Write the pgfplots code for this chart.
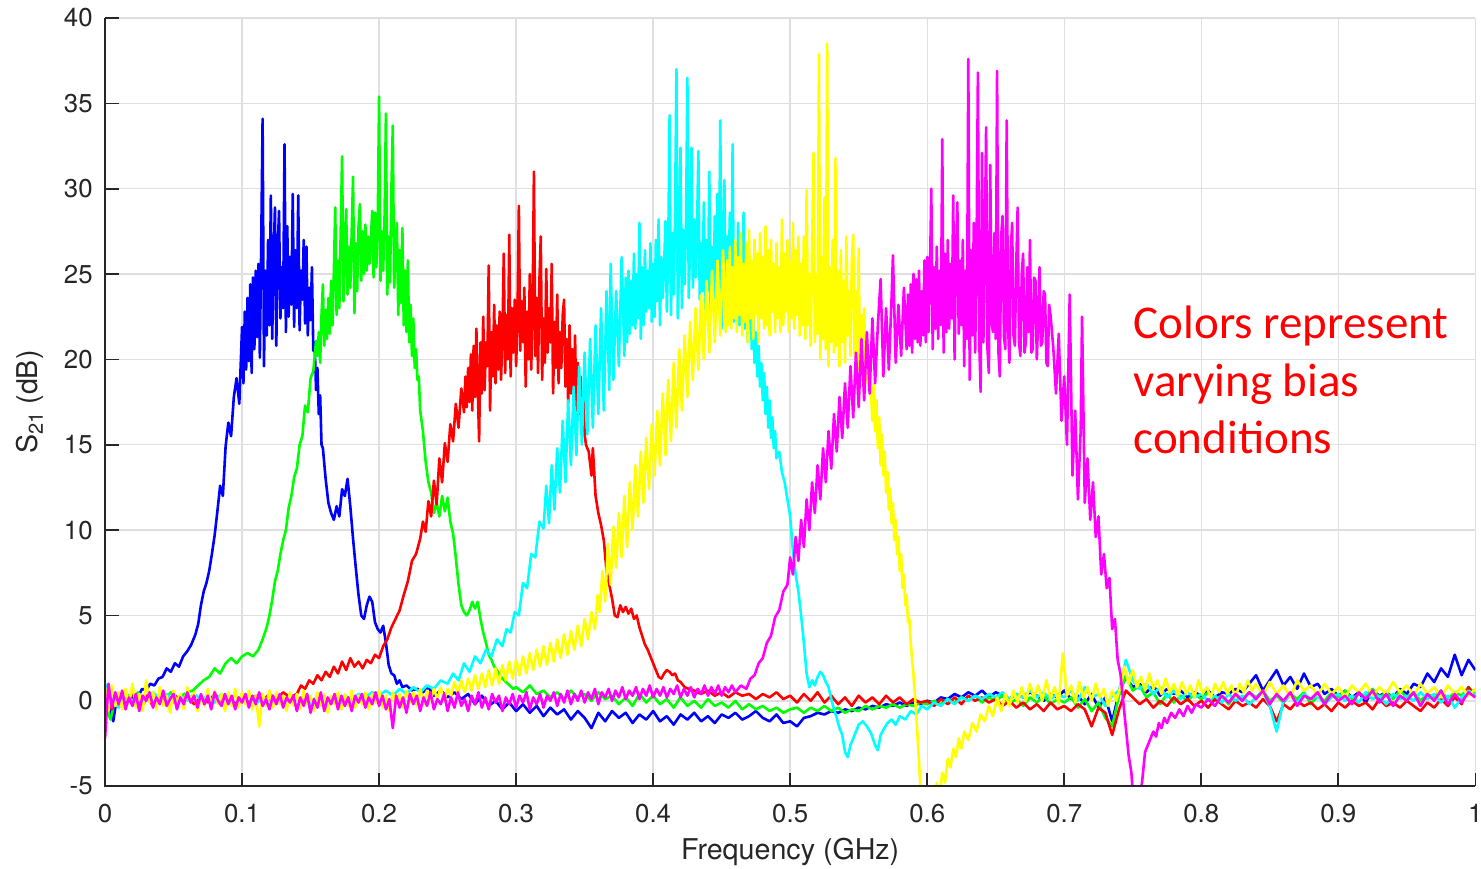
\documentclass[border=0pt]{standalone}
\usepackage{pgfplots}
\pgfplotsset{compat=1.18}
\usepackage{fontspec}
\setmainfont{TeX Gyre Heros}
\newfontfamily\calib{Carlito}
\definecolor{axgray}{RGB}{38,38,38}
\definecolor{gridgray}{RGB}{223,223,223}
\definecolor{mblue}{RGB}{0,0,255}
\definecolor{mgreen}{RGB}{0,255,0}
\definecolor{mred}{RGB}{255,0,0}
\definecolor{mcyan}{RGB}{0,255,255}
\definecolor{myellow}{RGB}{255,255,0}
\definecolor{mmagenta}{RGB}{255,0,255}
\begin{document}
\begin{tikzpicture}
\begin{axis}[
 scale only axis, width=685pt, height=384pt,
 xmin=0, xmax=1, ymin=-5, ymax=40,
 xtick={0,0.1,0.2,0.3,0.4,0.5,0.6,0.7,0.8,0.9,1},
 xticklabels={0,0.1,0.2,0.3,0.4,0.5,0.6,0.7,0.8,0.9,1},
 ytick={-5,0,5,10,15,20,25,30,35,40},
 yticklabels={-5,0,5,10,15,20,25,30,35,40},
 grid=major, major grid style={gridgray, line width=0.7pt},
 axis line style={draw=none},
 tick align=inside, xtick pos=left, ytick pos=left,
 major tick length=6.75pt, tick style={axgray, line width=0.8pt},
 ticklabel style={font=\fontsize{12.9}{14}\selectfont, text=axgray},
 xticklabel style={anchor=base, yshift=-18pt},
 yticklabel style={anchor=east, inner sep=0pt, xshift=-6pt},
 label style={font=\fontsize{14.3}{16}\selectfont, text=axgray},
 xlabel={Frequency (GHz)},
 ylabel={S\raisebox{-0.35ex}{\fontsize{10}{10}\selectfont 21} (dB)},
 xlabel style={at={(axis description cs:0.5,-0.095)}, anchor=base},
 ylabel style={at={(axis description cs:-0.0547,0.5)}, anchor=center},
 every axis plot/.append style={line width=1.3pt, line join=round},
]
% blue
\addplot[mblue] coordinates {
(0,0.5)(0.003,-0.3)(0.006,-1.2)(0.009,0.4)(0.012,-0.2)(0.015,0.3)(0.018,0.0)(0.021,0.4)(0.024,0.2)(0.027,0.7)
(0.030,0.6)(0.033,1.0)(0.036,0.9)(0.039,1.3)(0.042,1.4)(0.045,1.9)(0.048,1.7)(0.051,2.2)(0.054,2.0)(0.057,2.6)
(0.060,2.9)(0.063,3.3)(0.066,3.9)(0.068,4.5)(0.070,5.6)(0.072,6.4)(0.074,6.9)(0.076,7.6)(0.078,8.6)(0.080,9.7)
(0.082,11.1)(0.084,12.6)(0.086,12.0)(0.088,14.9)(0.090,16.3)(0.092,15.5)(0.094,17.8)(0.096,18.9)(0.098,17.4)
(0.100,21.9)(0.101,18.6)(0.102,22.8)(0.103,19.4)(0.104,23.6)(0.105,19.9)(0.106,24.4)(0.107,19.2)(0.108,24.8)(0.109,20.6)
(0.110,25.2)(0.111,21.3)(0.112,25.6)(0.113,20.1)(0.114,26.8)(0.115,34.1)(0.116,19.6)(0.117,25.2)(0.118,21.4)(0.119,27.0)
(0.120,22.0)(0.121,29.6)(0.122,21.2)(0.123,25.8)(0.124,28.9)(0.125,20.8)(0.126,26.5)(0.127,28.7)(0.128,22.4)(0.129,25.4)
(0.130,23.0)(0.131,32.6)(0.132,21.6)(0.133,27.8)(0.134,22.5)(0.135,26.0)(0.136,23.2)(0.137,29.7)(0.138,21.9)(0.139,26.4)
(0.140,23.0)(0.141,29.6)(0.142,21.7)(0.143,25.2)(0.144,23.5)(0.145,27.0)(0.146,22.1)(0.147,26.6)(0.148,21.4)(0.149,24.2)
(0.150,22.3)(0.151,25.4)(0.152,20.5)(0.153,21.0)(0.154,18.2)(0.155,19.5)(0.156,16.8)(0.157,17.9)(0.158,15.0)(0.159,14.8)
(0.161,13.0)(0.163,11.6)(0.165,11.0)(0.167,10.6)(0.169,11.4)(0.171,10.8)(0.173,12.4)(0.175,12.0)(0.177,13.0)(0.179,11.4)
(0.181,9.5)(0.183,7.8)(0.185,6.2)(0.187,5.0)(0.189,4.8)(0.191,5.6)(0.193,6.1)(0.195,5.8)(0.197,4.6)(0.199,4.2)
(0.201,4.0)(0.203,4.4)(0.205,3.4)(0.207,2.1)(0.209,1.6)(0.211,1.5)(0.213,1.0)(0.215,1.2)(0.217,0.8)(0.220,0.9)
(0.224,0.6)(0.228,0.7)(0.232,0.5)(0.236,0.8)(0.240,0.3)(0.245,0.6)(0.250,0.2)(0.255,0.5)(0.260,0.1)(0.265,0.4)
(0.270,-0.2)(0.275,0.3)(0.280,-0.3)(0.285,0.0)(0.290,-0.5)(0.295,-0.1)(0.300,-0.6)(0.305,-0.2)(0.310,-0.7)(0.315,-0.3)
(0.320,-0.9)(0.325,-0.4)(0.330,-0.8)(0.335,-0.5)(0.340,-1.1)(0.345,-0.6)(0.350,-1.0)(0.355,-1.6)(0.360,-0.7)(0.365,-1.2)
(0.370,-0.6)(0.375,-1.0)(0.380,-0.7)(0.385,-1.3)(0.390,-0.8)(0.395,-1.1)(0.400,-0.6)(0.405,-1.2)(0.410,-0.9)(0.415,-1.4)
(0.420,-0.8)(0.425,-1.1)(0.430,-0.7)(0.435,-1.2)(0.440,-0.9)(0.445,-1.3)(0.450,-0.8)(0.455,-1.0)(0.460,-0.7)(0.465,-1.1)
(0.470,-0.9)(0.475,-0.6)(0.480,-1.0)(0.485,-1.2)(0.490,-0.8)(0.495,-1.3)(0.500,-1.2)(0.505,-1.5)(0.510,-1.0)(0.515,-0.9)
(0.520,-0.7)(0.525,-0.8)(0.530,-0.6)(0.535,-0.7)(0.540,-0.5)(0.545,-0.6)(0.550,-0.4)(0.555,-0.5)(0.560,-0.3)(0.565,-0.4)
(0.570,-0.2)(0.575,-0.3)(0.580,-0.1)(0.585,-0.3)(0.590,-0.1)(0.595,-0.2)(0.600,0.0)(0.605,-0.1)(0.610,0.2)(0.615,0.1)
(0.620,0.4)(0.625,0.2)(0.630,0.5)(0.635,0.3)(0.640,0.6)(0.645,0.2)(0.650,0.5)(0.655,0.3)(0.660,0.1)(0.665,0.4)
(0.670,0.2)(0.675,0.5)(0.680,0.3)(0.685,0.0)(0.690,0.4)(0.695,0.2)(0.700,0.6)(0.705,0.1)(0.710,0.3)(0.715,-0.2)
(0.720,0.4)(0.725,-0.4)(0.730,0.2)(0.735,-1.2)(0.740,0.5)(0.745,1.4)(0.750,0.8)(0.755,1.0)(0.760,0.5)(0.765,0.9)
(0.770,0.3)(0.775,0.7)(0.780,0.4)(0.785,0.6)(0.790,0.2)(0.795,0.5)(0.800,0.3)(0.805,0.6)(0.810,0.2)(0.815,0.5)
(0.820,0.4)(0.825,0.7)(0.830,0.5)(0.835,1.0)(0.840,1.5)(0.845,0.6)(0.850,1.2)(0.855,1.8)(0.860,0.9)(0.865,1.4)
(0.870,0.7)(0.875,1.6)(0.880,0.8)(0.885,1.0)(0.890,0.4)(0.895,0.7)(0.900,0.3)(0.905,0.6)(0.910,0.2)(0.915,0.5)
(0.920,-0.1)(0.925,0.6)(0.930,0.3)(0.935,0.5)(0.940,0.2)(0.945,0.7)(0.950,0.4)(0.955,1.0)(0.960,0.8)(0.965,1.6)
(0.970,1.1)(0.975,1.9)(0.980,1.4)(0.985,2.7)(0.990,1.5)(0.995,2.4)(1.000,1.8)
};
% green
\addplot[mgreen] coordinates {
(0,-0.3)(0.004,-1.1)(0.008,0.3)(0.012,-0.2)(0.016,0.4)(0.020,-0.1)(0.024,0.5)(0.028,-0.2)(0.032,0.3)(0.036,0.0)
(0.040,0.4)(0.044,0.1)(0.048,0.5)(0.052,0.2)(0.056,0.3)(0.060,0.5)(0.064,0.6)(0.068,0.9)(0.072,1.2)(0.076,1.4)
(0.080,1.9)(0.084,1.6)(0.088,2.2)(0.092,2.5)(0.096,2.2)(0.100,2.6)(0.104,2.8)(0.108,2.6)(0.112,3.0)(0.115,3.6)
(0.118,4.3)(0.120,5.0)(0.122,5.9)(0.124,7.0)(0.126,7.6)(0.128,8.6)(0.130,9.4)(0.132,10.0)(0.134,11.3)(0.136,12.0)
(0.138,13.1)(0.140,13.6)(0.142,15.0)(0.144,15.5)(0.146,17.3)(0.148,16.9)(0.150,18.9)(0.152,19.3)(0.154,21.1)
(0.155,20.2)(0.156,21.6)(0.157,19.8)(0.158,22.6)(0.159,24.4)(0.160,20.8)(0.161,22.9)(0.162,21.2)(0.163,23.6)(0.164,21.5)
(0.165,24.6)(0.166,22.0)(0.167,25.1)(0.168,28.9)(0.169,22.6)(0.170,25.8)(0.171,23.0)(0.172,27.5)(0.173,31.9)(0.174,23.4)
(0.175,26.2)(0.176,28.8)(0.177,23.8)(0.178,26.6)(0.179,24.2)(0.180,27.4)(0.181,30.7)(0.182,22.7)(0.183,26.8)(0.184,24.0)
(0.185,27.8)(0.186,29.1)(0.187,24.6)(0.188,27.5)(0.189,25.0)(0.190,27.9)(0.191,25.2)(0.192,27.2)(0.193,25.6)(0.194,27.0)
(0.195,28.7)(0.196,24.8)(0.197,28.6)(0.198,25.4)(0.199,27.8)(0.200,35.4)(0.201,24.6)(0.202,27.5)(0.203,25.2)(0.204,28.4)
(0.205,34.4)(0.206,23.8)(0.207,27.2)(0.208,24.5)(0.209,30.0)(0.210,33.7)(0.211,24.2)(0.212,26.5)(0.213,28.0)(0.214,22.6)
(0.215,26.4)(0.216,23.3)(0.217,27.7)(0.218,22.0)(0.219,25.2)(0.220,21.6)(0.221,25.8)(0.222,21.0)(0.223,23.2)(0.224,20.2)
(0.225,22.4)(0.226,19.5)(0.227,20.6)(0.228,18.8)(0.229,19.0)(0.230,17.0)
(0.232,15.8)(0.234,14.0)(0.236,12.8)(0.238,12.2)(0.240,11.0)(0.242,11.6)(0.244,10.8)
(0.246,12.0)(0.248,11.1)(0.250,11.9)(0.252,10.5)(0.254,9.8)(0.256,8.4)(0.258,6.8)(0.260,5.6)(0.262,5.2)(0.264,5.0)
(0.266,5.3)(0.268,5.8)(0.270,5.4)(0.272,5.8)(0.274,4.8)(0.276,4.0)(0.278,3.4)(0.280,2.7)(0.282,2.4)(0.284,2.0)
(0.286,1.8)(0.288,1.5)(0.290,1.3)(0.294,1.0)(0.298,0.7)(0.300,0.8)(0.305,0.5)(0.310,0.9)(0.315,0.4)(0.320,0.6)
(0.325,0.2)(0.330,0.5)(0.335,0.1)(0.340,0.6)(0.345,0.2)(0.350,0.4)(0.355,0.0)(0.360,0.5)(0.365,0.1)(0.370,0.3)
(0.375,-0.2)(0.380,0.2)(0.385,-0.3)(0.390,0.4)(0.395,-0.1)(0.400,0.3)(0.405,-0.2)(0.410,0.1)(0.415,-0.4)(0.420,0.2)
(0.425,-0.3)(0.430,0.0)(0.435,-0.4)(0.440,0.1)(0.445,-0.3)(0.450,-0.1)(0.455,-0.4)(0.460,0.0)(0.465,-0.5)(0.470,-0.2)
(0.475,-0.5)(0.480,-0.3)(0.485,-0.6)(0.490,-0.4)(0.495,-0.7)(0.500,-0.5)(0.505,-0.4)(0.510,-0.7)(0.515,-0.4)(0.520,-0.6)
(0.525,-0.3)(0.530,-0.6)(0.535,-0.4)(0.540,-0.7)(0.545,-0.5)(0.550,-0.6)(0.555,-0.3)(0.560,-0.5)(0.565,-0.3)(0.570,-0.4)
(0.575,-0.2)(0.580,-0.4)(0.585,-0.2)(0.590,-0.3)(0.595,-0.1)(0.600,-0.2)(0.605,0.0)(0.610,-0.2)(0.615,0.1)(0.620,-0.1)
(0.625,0.2)(0.630,0.0)(0.635,0.3)(0.640,-0.1)(0.645,0.2)(0.650,0.0)(0.655,0.3)(0.660,-0.2)(0.665,0.1)(0.670,-0.3)
(0.675,0.2)(0.680,-0.1)(0.685,0.3)(0.690,-0.2)(0.695,0.1)(0.700,-0.1)(0.705,0.2)(0.710,-0.4)(0.715,0.1)(0.720,-0.6)
(0.725,-0.1)(0.730,-1.0)(0.735,-1.5)(0.740,0.3)(0.745,1.5)(0.750,0.6)(0.755,0.9)(0.760,0.2)(0.765,0.5)(0.770,-0.2)
(0.775,0.4)(0.780,-0.1)(0.785,0.3)(0.790,0.0)(0.795,0.4)(0.800,0.1)(0.805,0.5)(0.810,0.0)(0.815,0.3)(0.820,-0.2)
(0.825,0.4)(0.830,0.1)(0.835,0.5)(0.840,0.2)(0.845,0.6)(0.850,0.0)(0.855,0.3)(0.860,-0.1)(0.865,0.4)(0.870,0.1)
(0.875,0.5)(0.880,-0.2)(0.885,0.3)(0.890,0.0)(0.895,0.5)(0.900,0.2)(0.905,0.6)(0.910,0.1)(0.915,0.4)(0.920,0.3)
(0.925,0.7)(0.930,0.2)(0.935,0.5)(0.940,0.1)(0.945,0.6)(0.950,0.2)(0.955,0.5)(0.960,0.0)(0.965,0.4)(0.970,0.2)
(0.975,0.6)(0.980,0.1)(0.985,0.5)(0.990,0.3)(0.995,0.8)(1.000,0.4)
};
% red
\addplot[mred] coordinates {
(0,0.6)(0.005,-0.5)(0.010,0.3)(0.015,-0.2)(0.020,0.4)(0.025,-0.1)(0.030,0.3)(0.035,-0.3)(0.040,0.2)(0.045,-0.2)
(0.050,0.4)(0.055,0.0)(0.060,0.3)(0.065,-0.2)(0.070,0.2)(0.075,-0.1)(0.080,0.4)(0.085,0.0)(0.090,0.3)(0.095,-0.2)
(0.100,0.2)(0.105,-0.1)(0.110,0.3)(0.115,0.0)(0.120,0.4)(0.125,0.1)(0.130,0.5)(0.135,0.2)(0.140,0.4)(0.143,0.9)
(0.146,0.7)(0.149,1.2)(0.152,1.0)(0.155,1.5)(0.158,1.2)(0.161,1.7)(0.164,1.4)(0.167,2.0)(0.170,1.6)(0.173,2.3)
(0.176,1.8)(0.179,2.5)(0.182,2.0)(0.185,2.3)(0.188,1.9)(0.191,2.4)(0.194,2.2)(0.197,2.7)(0.200,2.5)(0.203,3.2)
(0.206,3.6)(0.209,4.3)(0.212,4.8)(0.215,5.3)(0.218,6.2)(0.221,7.0)(0.224,8.2)(0.227,8.6)(0.230,9.5)(0.232,10.5)
(0.234,9.9)(0.236,11.7)(0.238,10.8)(0.240,12.9)(0.242,11.5)(0.244,14.2)(0.246,12.8)(0.248,15.1)(0.250,14.0)(0.252,16.2)
(0.254,15.2)(0.256,17.4)(0.258,16.0)(0.260,18.3)
(0.262,16.9)(0.263,19.0)(0.264,17.2)(0.265,19.5)(0.266,17.5)(0.267,20.3)(0.268,17.0)(0.269,20.8)(0.270,17.8)(0.271,21.8)
(0.272,18.4)(0.273,15.2)(0.274,21.0)(0.275,18.0)(0.276,22.5)(0.277,18.2)(0.278,21.0)(0.279,19.6)(0.280,25.5)(0.281,17.0)
(0.282,21.6)(0.283,19.0)(0.284,23.2)(0.285,18.6)(0.286,22.0)(0.287,19.4)(0.288,22.8)(0.289,18.8)(0.290,21.4)(0.291,26.2)
(0.292,19.2)(0.293,22.6)(0.294,20.0)(0.295,27.3)(0.296,19.0)(0.297,23.0)(0.298,20.4)(0.299,23.5)(0.300,19.6)(0.301,22.4)
(0.302,29.0)(0.303,20.5)(0.304,23.4)(0.305,21.0)(0.306,24.2)(0.307,18.4)(0.308,22.8)(0.309,20.0)(0.310,25.0)(0.311,19.4)
(0.312,22.5)(0.313,31.0)(0.314,20.2)(0.315,23.6)(0.316,19.2)(0.317,24.6)(0.318,27.2)(0.319,18.8)(0.320,22.4)(0.321,19.8)
(0.322,25.3)(0.323,20.4)(0.324,23.0)(0.325,21.0)(0.326,25.6)(0.327,18.0)(0.328,22.2)(0.329,19.5)(0.330,23.8)(0.331,18.6)
(0.332,21.6)(0.333,19.5)(0.334,22.6)(0.335,23.5)(0.336,18.4)(0.337,21.2)(0.338,17.4)(0.339,22.0)(0.340,18.0)(0.341,20.6)
(0.342,17.2)(0.343,21.4)(0.344,17.0)(0.345,19.8)(0.346,16.8)(0.347,19.0)(0.348,16.4)(0.349,18.0)(0.350,15.6)(0.351,15.0)
(0.353,14.6)(0.355,13.2)(0.356,14.8)(0.358,12.0)(0.360,11.0)(0.362,10.3)(0.364,9.4)(0.366,7.6)
(0.368,6.8)(0.370,6.0)(0.372,5.0)(0.374,4.9)(0.376,5.6)(0.378,5.2)(0.380,5.5)(0.382,5.1)(0.384,5.4)(0.386,4.8)
(0.388,5.0)(0.390,4.3)(0.392,3.8)(0.394,3.3)(0.396,3.0)(0.398,2.6)(0.400,2.2)(0.402,1.8)(0.404,1.4)(0.406,1.3)
(0.408,1.6)(0.410,1.8)(0.412,1.7)(0.414,1.5)(0.416,1.6)(0.418,1.2)(0.420,1.1)(0.423,0.8)(0.426,0.7)(0.430,0.6)
(0.435,0.4)(0.440,0.6)(0.445,0.3)(0.450,0.5)(0.455,0.2)(0.460,0.5)(0.465,0.3)(0.470,0.4)(0.475,0.1)(0.480,0.4)
(0.485,0.2)(0.490,0.5)(0.495,0.1)(0.500,0.3)(0.505,-0.1)(0.510,0.4)(0.515,0.0)(0.520,0.5)(0.525,-0.1)(0.530,0.3)
(0.535,-0.2)(0.540,0.2)(0.545,-0.3)(0.550,0.3)(0.555,-0.1)(0.560,0.2)(0.565,-0.2)(0.570,0.3)(0.575,-0.1)(0.580,0.2)
(0.585,-0.2)(0.590,0.1)(0.595,-0.1)(0.600,0.0)(0.605,-0.3)(0.610,0.1)(0.615,-0.2)(0.620,0.2)(0.625,-0.2)(0.630,0.3)
(0.635,0.0)(0.640,0.2)(0.645,-0.1)(0.650,0.1)(0.655,-0.3)(0.660,0.0)(0.665,-0.4)(0.670,-0.1)(0.675,-0.5)(0.680,-0.2)
(0.685,-0.6)(0.690,-0.1)(0.695,-0.5)(0.700,-0.3)(0.705,-0.6)(0.710,-0.2)(0.715,-0.5)(0.720,-1.5)(0.725,-0.4)(0.730,-0.7)
(0.735,-2.0)(0.740,-0.5)(0.745,0.6)(0.750,0.2)(0.755,-0.2)(0.760,0.1)(0.765,-0.4)(0.770,0.0)(0.775,-0.3)(0.780,0.2)
(0.785,-0.2)(0.790,0.1)(0.795,-0.3)(0.800,0.0)(0.805,-0.4)(0.810,0.1)(0.815,-0.2)(0.820,-0.5)(0.825,0.0)(0.830,-0.3)
(0.835,-0.1)(0.840,-0.4)(0.845,0.1)(0.850,-0.3)(0.855,-1.2)(0.860,-0.2)(0.865,-0.5)(0.870,0.0)(0.875,-0.3)(0.880,-0.1)
(0.885,-0.5)(0.890,-0.2)(0.895,-0.6)(0.900,-0.1)(0.905,-0.4)(0.910,0.0)(0.915,-0.3)(0.920,-0.1)(0.925,-0.5)(0.930,0.1)
(0.935,-0.3)(0.940,-0.1)(0.945,-0.4)(0.950,0.0)(0.955,-0.3)(0.960,-0.6)(0.965,-0.1)(0.970,-0.4)(0.975,0.1)(0.980,-0.3)
(0.985,0.2)(0.990,-0.2)(0.995,0.8)(1.000,0.2)
};
% cyan
\addplot[mcyan] coordinates {
(0,1.0)(0.005,0.1)(0.010,-0.4)(0.015,0.3)(0.020,-0.1)(0.025,0.4)(0.030,0.0)(0.035,0.5)(0.040,0.1)(0.045,0.4)
(0.050,-0.1)(0.055,0.3)(0.060,0.0)(0.065,0.4)(0.070,0.1)(0.075,0.3)(0.080,-0.1)(0.085,0.4)(0.090,0.0)(0.095,0.3)
(0.100,0.1)(0.105,0.4)(0.110,-0.2)(0.115,0.2)(0.120,0.0)(0.125,0.3)(0.130,-0.1)(0.135,0.2)(0.140,-0.3)(0.145,0.1)
(0.150,-0.2)(0.155,0.3)(0.160,0.0)(0.165,0.2)(0.170,-0.1)(0.175,0.3)(0.180,0.1)(0.185,0.4)(0.190,0.2)(0.195,0.5)
(0.200,0.3)(0.205,0.6)(0.210,0.3)(0.215,0.7)(0.220,0.4)(0.225,0.8)(0.230,0.5)(0.235,0.9)(0.240,0.7)(0.245,1.2)
(0.250,1.0)(0.254,1.6)(0.258,1.2)(0.262,2.2)(0.266,1.7)(0.270,2.6)(0.274,2.2)(0.278,3.0)(0.282,2.6)(0.286,3.6)
(0.290,3.2)(0.293,4.2)(0.296,4.0)(0.299,5.2)(0.302,5.0)(0.305,6.9)(0.308,6.6)(0.311,8.6)(0.314,8.4)(0.317,10.5)
(0.320,10.1)(0.322,12.6)(0.324,10.4)(0.326,13.8)(0.328,11.2)(0.330,14.8)(0.332,12.2)(0.334,16.4)(0.336,12.8)(0.338,17.6)
(0.340,13.8)(0.342,18.4)(0.344,14.4)(0.346,19.6)(0.348,15.0)(0.350,20.4)(0.352,15.6)(0.354,21.2)(0.356,16.0)(0.358,22.0)
(0.360,16.8)(0.362,23.0)(0.364,17.0)(0.366,24.0)(0.368,18.2)(0.369,25.6)(0.371,18.8)(0.373,24.0)(0.375,19.6)(0.377,26.0)
(0.379,20.2)
(0.380,24.8)(0.381,21.0)(0.382,25.2)(0.383,21.5)(0.384,24.6)(0.385,22.0)(0.386,26.2)(0.387,21.8)(0.388,25.0)(0.389,22.4)
(0.390,28.0)(0.391,21.2)(0.392,25.4)(0.393,22.0)(0.394,26.4)(0.395,22.8)(0.396,25.2)(0.397,23.0)(0.398,26.8)(0.399,22.2)
(0.400,25.6)(0.401,22.5)(0.402,27.0)(0.403,23.4)(0.404,28.2)(0.405,22.0)(0.406,26.0)(0.407,23.6)(0.408,25.5)(0.409,28.1)
(0.410,22.8)(0.411,26.4)(0.412,34.3)(0.413,22.6)(0.414,27.4)(0.415,23.8)(0.416,28.6)(0.417,37.0)(0.418,22.4)(0.419,26.2)
(0.420,32.4)(0.421,23.0)(0.422,27.6)(0.423,24.4)(0.424,28.0)(0.425,36.5)(0.426,23.6)(0.427,27.0)(0.428,32.4)(0.429,24.2)
(0.430,28.2)(0.431,24.8)(0.432,27.4)(0.433,32.2)(0.434,23.5)(0.435,26.8)(0.436,24.0)(0.437,29.2)(0.438,22.6)(0.439,27.0)
(0.440,24.0)(0.441,31.0)(0.442,22.4)(0.443,26.6)(0.444,23.6)(0.445,28.4)(0.446,22.8)(0.447,29.7)(0.448,24.2)(0.449,34.0)
(0.450,21.8)(0.451,26.4)(0.452,30.5)(0.453,22.6)(0.454,27.2)(0.455,24.5)(0.456,28.6)(0.457,23.0)(0.458,32.6)(0.459,22.2)
(0.460,26.8)(0.461,22.8)(0.462,28.0)(0.463,22.0)(0.464,26.4)(0.465,22.6)(0.466,28.6)(0.467,21.8)(0.468,25.6)(0.469,21.0)
(0.470,25.0)(0.471,23.4)(0.472,20.6)(0.473,22.6)(0.474,19.8)(0.475,21.6)(0.476,19.0)(0.477,20.8)(0.478,18.4)(0.479,19.8)
(0.480,17.6)(0.481,19.2)(0.482,16.8)(0.483,18.4)(0.484,16.0)(0.485,17.6)(0.486,15.4)(0.487,16.6)(0.488,14.8)(0.489,15.8)
(0.490,14.2)(0.492,14.6)(0.494,13.4)(0.496,12.8)(0.498,11.8)(0.500,10.8)(0.502,8.8)(0.504,7.4)(0.506,6.4)(0.508,5.0)(0.510,3.4)
(0.512,1.6)(0.514,0.8)(0.516,1.2)(0.518,0.9)(0.520,1.4)(0.522,1.7)(0.524,1.5)(0.526,1.1)(0.528,0.8)(0.530,0.1)
(0.532,-0.5)(0.534,-1.0)(0.536,-1.6)(0.538,-2.0)(0.540,-3.0)(0.542,-3.3)(0.544,-2.6)(0.546,-2.2)(0.548,-1.8)(0.550,-1.4)
(0.553,-1.2)(0.556,-1.5)(0.559,-1.9)(0.562,-2.6)(0.564,-2.9)(0.566,-2.0)(0.568,-1.7)(0.571,-1.3)(0.574,-1.1)(0.577,-1.4)
(0.580,-0.9)(0.584,-1.1)(0.588,-0.6)(0.592,-0.8)(0.596,-0.3)(0.600,-0.5)(0.605,-0.1)(0.610,-0.3)(0.615,0.1)(0.620,-0.2)
(0.625,0.2)(0.630,0.0)(0.635,0.3)(0.640,0.1)(0.645,0.4)(0.650,0.2)(0.655,0.5)(0.660,0.1)(0.665,0.4)(0.670,0.2)
(0.675,0.6)(0.680,0.2)(0.685,0.5)(0.690,0.1)(0.695,0.4)(0.700,0.2)(0.705,0.6)(0.710,0.0)(0.715,0.8)(0.720,0.2)
(0.725,0.4)(0.730,-0.3)(0.735,0.3)(0.740,0.6)(0.745,2.4)(0.750,1.2)(0.755,0.7)(0.760,1.0)(0.765,0.4)(0.770,0.8)
(0.775,0.2)(0.780,0.6)(0.785,0.1)(0.790,0.5)(0.795,0.2)(0.800,0.4)(0.805,0.0)(0.810,0.3)(0.815,-0.1)(0.820,0.4)
(0.825,0.0)(0.830,0.3)(0.835,-0.2)(0.840,0.2)(0.845,0.5)(0.850,-0.3)(0.855,-1.8)(0.860,0.0)(0.865,0.3)(0.870,-0.1)
(0.875,0.4)(0.880,0.1)(0.885,0.3)(0.890,-0.2)(0.895,0.2)(0.900,0.4)(0.905,0.0)(0.910,0.3)(0.915,-0.1)(0.920,0.5)
(0.925,0.1)(0.930,0.3)(0.935,-0.2)(0.940,0.4)(0.945,0.1)(0.950,0.3)(0.955,0.0)(0.960,0.5)(0.965,0.1)(0.970,0.4)
(0.975,-0.1)(0.980,0.3)(0.985,-0.4)(0.990,0.2)(0.995,0.6)(1.000,0.3)
};
% yellow
\addplot[myellow] coordinates {
(0.0000,0.8)(0.0025,-0.6)(0.0050,0.9)(0.0075,-0.3)(0.0100,0.5)(0.0125,-0.5)(0.0150,0.7)(0.0175,-0.2)(0.0200,1.0)(0.0225,-0.4)
(0.0250,0.4)(0.0275,-0.6)(0.0300,1.2)(0.0325,-0.1)(0.0350,0.5)(0.0375,-0.5)(0.0400,0.8)(0.0425,-0.3)(0.0450,0.3)(0.0475,-0.7)
(0.0500,0.6)(0.0525,-0.2)(0.0550,0.4)(0.0575,-0.5)(0.0600,0.8)(0.0625,-0.1)(0.0650,0.5)(0.0675,-0.6)(0.0700,0.3)(0.0725,-0.3)
(0.0750,0.7)(0.0775,-0.5)(0.0800,0.6)(0.0825,-0.2)(0.0850,0.4)(0.0875,-0.6)(0.0900,0.5)(0.0925,-0.3)(0.0950,0.7)(0.0975,-0.4)
(0.1000,0.5)(0.1025,-0.2)(0.1050,0.6)(0.1075,-0.5)(0.1100,0.3)(0.1125,-1.5)(0.1150,0.4)(0.1175,-0.3)(0.1200,0.6)(0.1225,-0.4)
(0.1250,0.5)(0.1275,-0.2)(0.1300,0.3)(0.1325,-0.6)(0.1350,0.5)(0.1375,-0.3)(0.1400,0.4)(0.1425,-0.5)(0.1450,0.6)(0.1475,-0.2)
(0.1500,0.3)(0.1525,-0.6)(0.1550,0.5)(0.1575,-0.3)(0.1600,0.4)(0.1625,-0.7)(0.1650,0.3)(0.1675,-0.2)(0.1700,0.5)(0.1725,-0.5)
(0.1750,0.4)(0.1775,-0.3)(0.1800,0.6)(0.1825,-0.4)(0.1850,0.3)(0.1875,-0.2)(0.1900,0.5)(0.1925,-0.5)(0.1950,0.4)(0.1975,-0.1)
(0.2000,0.6)(0.2025,-0.4)(0.2050,0.3)(0.2075,-0.6)(0.2100,0.5)(0.2125,-0.2)(0.2150,0.4)(0.2175,-0.4)(0.2200,0.6)(0.2225,-0.1)
(0.2250,0.5)(0.2275,-0.3)(0.2300,0.7)(0.2325,-0.2)(0.2350,0.6)(0.2375,0.0)(0.2400,0.7)(0.2425,0.1)(0.2450,0.8)(0.2475,0.0)
(0.2500,0.7)(0.2525,0.3)(0.2550,1.1)(0.2575,0.4)(0.2600,1.2)(0.2625,0.5)(0.2650,1.3)(0.2675,0.6)(0.2700,1.5)(0.2725,0.7)
(0.2750,1.6)(0.2775,0.8)(0.2800,1.8)(0.2825,0.9)(0.2850,1.9)(0.2875,1.0)(0.2900,2.1)(0.2925,1.2)(0.2950,2.3)(0.2975,1.3)
(0.3000,2.4)(0.3025,1.5)(0.3050,2.6)(0.3075,1.6)(0.3100,2.8)(0.3125,1.8)(0.3150,3.0)(0.3175,2.0)(0.3200,3.2)(0.3225,2.1)
(0.3250,3.4)(0.3275,2.3)(0.3300,3.6)(0.3325,2.5)(0.3350,3.9)(0.3375,2.7)(0.3400,4.1)(0.3425,3.0)(0.3450,4.4)(0.3475,3.2)
(0.3500,4.8)(0.3525,3.6)(0.3550,5.2)(0.3575,4.2)(0.3595,6.2)
(0.361,5.2)(0.363,7.6)(0.365,5.8)(0.367,9.2)(0.369,6.8)(0.371,10.2)(0.373,7.8)(0.375,11.0)(0.377,8.4)(0.379,12.0)
(0.381,9.0)(0.383,12.8)(0.385,10.0)(0.387,13.8)(0.389,10.8)(0.391,14.6)(0.393,11.6)(0.395,15.4)(0.397,12.4)(0.399,16.2)
(0.401,13.2)(0.403,17.0)(0.405,13.8)(0.407,18.0)(0.409,14.4)(0.411,18.8)(0.413,15.2)(0.415,19.8)(0.417,16.0)(0.419,20.6)
(0.421,17.0)(0.423,21.4)(0.425,17.8)(0.427,22.2)(0.429,18.8)(0.431,23.0)(0.433,19.4)(0.435,23.8)(0.437,20.0)(0.439,24.6)
(0.441,20.4)(0.443,25.2)(0.445,21.0)(0.447,25.8)(0.449,21.4)(0.451,26.4)(0.453,21.6)
(0.454,25.8)(0.455,22.0)(0.456,26.6)(0.457,21.8)(0.458,25.4)(0.459,22.4)(0.460,27.0)(0.461,21.6)(0.462,26.0)(0.463,22.6)
(0.464,27.4)(0.465,21.4)(0.466,25.6)(0.467,22.2)(0.468,26.8)(0.469,21.0)(0.470,27.6)(0.471,22.4)(0.472,25.8)(0.473,21.2)
(0.474,27.0)(0.475,22.6)(0.476,26.2)(0.477,21.0)(0.478,27.4)(0.479,22.4)(0.480,26.0)(0.481,21.8)(0.482,27.8)(0.483,22.0)
(0.484,26.4)(0.485,21.4)(0.486,27.0)(0.487,22.8)(0.488,25.6)(0.489,21.6)(0.490,26.8)(0.491,22.4)(0.492,25.4)(0.493,21.6)
(0.494,28.2)(0.495,22.0)(0.496,26.2)(0.497,22.8)(0.498,27.0)(0.499,21.6)(0.500,25.8)(0.501,22.4)(0.502,28.0)(0.503,21.8)
(0.504,26.4)(0.505,22.6)(0.506,27.2)(0.507,21.4)(0.508,25.6)(0.509,22.0)(0.510,27.2)(0.511,21.2)(0.512,29.9)(0.513,22.0)
(0.514,25.0)(0.515,20.8)(0.516,26.4)(0.517,32.1)(0.518,21.0)(0.519,25.0)(0.520,21.5)(0.521,37.9)(0.522,20.0)(0.523,26.0)
(0.524,21.2)(0.525,29.5)(0.526,20.6)(0.527,38.5)(0.528,19.6)(0.529,25.4)(0.530,21.0)(0.531,27.0)(0.532,20.4)(0.533,31.8)
(0.534,20.8)(0.535,25.2)(0.536,19.6)(0.537,26.4)(0.538,21.0)(0.539,24.6)(0.540,19.8)(0.541,27.2)(0.542,21.4)(0.543,24.0)
(0.544,20.2)(0.545,25.8)(0.546,27.3)(0.547,20.2)(0.548,24.0)(0.549,19.4)(0.550,26.5)(0.551,19.0)(0.552,22.6)(0.553,19.4)
(0.554,23.0)(0.555,18.6)(0.556,20.8)(0.557,18.2)(0.558,19.6)
(0.560,16.4)(0.561,18.6)(0.562,15.8)(0.563,17.6)(0.564,14.8)(0.565,16.6)(0.566,13.8)(0.567,15.6)(0.568,13.2)(0.569,14.6)
(0.570,12.2)(0.571,13.4)(0.572,11.2)(0.573,12.4)(0.574,10.4)(0.575,11.6)(0.576,9.4)(0.577,10.6)(0.578,8.6)(0.579,9.6)
(0.580,7.6)(0.581,8.6)(0.582,6.6)(0.583,7.4)(0.584,5.6)(0.585,6.2)(0.586,4.6)(0.587,4.8)(0.588,3.4)
(0.590,1.5)(0.592,-0.8)(0.594,-3.5)(0.596,-6.5)(0.599,-9.0)(0.602,-9.0)(0.605,-7.5)(0.607,-4.8)(0.609,-5.6)
(0.611,-4.2)(0.613,-4.8)(0.615,-3.4)(0.617,-3.9)(0.619,-2.8)(0.621,-3.3)(0.623,-2.2)(0.625,-2.8)(0.627,-1.8)(0.630,-2.3)
(0.633,-1.3)(0.636,-1.8)(0.639,-0.8)(0.642,-1.2)(0.645,-0.3)(0.648,-0.9)(0.651,0.2)(0.654,-0.6)(0.657,0.4)(0.660,-0.3)
(0.663,0.6)(0.666,-0.1)(0.669,0.8)(0.672,0.0)(0.675,1.0)(0.678,0.2)(0.681,0.9)(0.684,0.0)(0.687,1.2)(0.690,0.1)
(0.693,0.8)(0.696,-0.2)(0.699,2.8)(0.702,0.3)(0.705,0.9)(0.708,-0.1)(0.711,1.1)(0.714,0.2)(0.717,0.8)(0.720,0.0)
(0.723,1.0)(0.726,0.2)(0.729,0.7)(0.732,-0.3)(0.735,0.6)(0.738,0.0)(0.741,0.8)(0.744,2.0)(0.747,1.0)(0.750,1.8)
(0.753,0.8)(0.756,1.4)(0.759,0.6)(0.762,1.6)(0.765,0.7)(0.768,1.2)(0.771,0.4)(0.774,1.3)(0.777,0.5)(0.780,1.0)
(0.783,0.3)(0.786,1.1)(0.789,0.4)(0.792,0.9)(0.795,0.2)(0.798,1.2)(0.801,0.4)(0.804,0.8)(0.807,0.2)(0.810,1.0)
(0.813,0.5)(0.816,1.1)(0.819,0.4)(0.822,0.9)(0.825,0.2)(0.828,1.0)(0.831,0.5)(0.834,1.2)(0.837,0.6)(0.840,1.0)
(0.845,0.3)(0.850,1.1)(0.855,0.4)(0.860,0.9)(0.865,0.2)(0.870,1.2)(0.875,0.6)(0.880,0.9)(0.885,0.3)(0.890,1.0)
(0.895,0.4)(0.900,0.8)(0.905,0.2)(0.910,0.9)(0.915,0.5)(0.920,1.0)(0.925,0.3)(0.930,0.8)(0.935,0.4)(0.940,1.1)
(0.945,0.5)(0.950,0.9)(0.955,0.3)(0.960,1.0)(0.965,0.4)(0.970,0.8)(0.975,0.2)(0.980,0.9)(0.985,0.4)(0.990,0.8)
(0.995,0.3)(1.000,0.7)
};
% magenta
\addplot[mmagenta] coordinates {
(0.0000,-2.2)(0.0025,1.0)(0.0050,-0.4)(0.0075,0.5)(0.0100,-0.2)(0.0125,0.6)(0.0150,-0.5)(0.0175,0.2)(0.0200,-0.3)(0.0225,0.4)
(0.0250,-0.6)(0.0275,0.3)(0.0300,0.0)(0.0325,0.5)(0.0350,-0.4)(0.0375,0.2)(0.0400,-0.2)(0.0425,0.6)(0.0450,-0.3)(0.0475,0.1)
(0.0500,0.4)(0.0525,-0.5)(0.0550,0.2)(0.0575,-0.2)(0.0600,0.5)(0.0625,-0.1)(0.0650,0.3)(0.0675,-0.4)(0.0700,0.4)(0.0725,-0.2)
(0.0750,0.3)(0.0775,-0.5)(0.0800,0.5)(0.0825,0.0)(0.0850,-0.3)(0.0875,0.4)(0.0900,-0.2)(0.0925,0.3)(0.0950,-0.5)(0.0975,0.2)
(0.1000,-0.1)(0.1025,0.4)(0.1050,-0.4)(0.1075,0.3)(0.1100,-0.2)(0.1125,0.5)(0.1150,-0.3)(0.1175,0.1)(0.1200,-0.5)(0.1225,0.3)
(0.1250,-0.2)(0.1275,0.4)(0.1300,-0.4)(0.1325,0.2)(0.1350,-0.1)(0.1375,0.3)(0.1400,-0.6)(0.1425,0.2)(0.1450,-0.3)(0.1475,0.4)
(0.1500,-0.7)(0.1525,0.1)(0.1550,-0.4)(0.1575,0.5)(0.1600,-0.6)(0.1625,0.2)(0.1650,-0.2)(0.1675,0.4)(0.1700,-0.5)(0.1725,0.3)
(0.1750,-0.3)(0.1775,0.2)(0.1800,-0.6)(0.1825,0.3)(0.1850,-0.1)(0.1875,0.4)(0.1900,-0.4)(0.1925,0.2)(0.1950,-0.2)(0.1975,0.5)
(0.2000,-0.3)(0.2025,0.3)(0.2050,-0.5)(0.2075,0.1)(0.2100,-1.6)(0.2125,0.3)(0.2150,-0.4)(0.2175,0.2)(0.2200,-0.7)(0.2225,0.4)
(0.2250,-0.2)(0.2275,0.3)(0.2300,-0.6)(0.2325,0.2)(0.2350,-0.3)(0.2375,0.5)(0.2400,-0.5)(0.2425,0.1)(0.2450,-0.2)(0.2475,0.4)
(0.2500,-0.6)(0.2525,0.2)(0.2550,-0.4)(0.2575,0.5)(0.2600,-0.3)(0.2625,0.1)(0.2650,-0.6)(0.2675,0.3)(0.2700,-0.2)(0.2725,0.5)
(0.2750,-0.4)(0.2775,0.2)(0.2800,-0.5)(0.2825,0.4)(0.2850,-0.1)(0.2875,0.3)(0.2900,-0.6)(0.2925,0.2)(0.2950,-0.2)(0.2975,0.4)
(0.3000,-0.4)(0.3025,0.3)(0.3050,-0.1)(0.3075,0.5)(0.3100,-0.5)(0.3125,0.2)(0.3150,-0.2)(0.3175,0.4)(0.3200,-0.4)(0.3225,0.3)
(0.3250,0.0)(0.3275,0.5)(0.3300,-0.3)(0.3325,0.4)(0.3350,-0.1)(0.3375,0.6)(0.3400,-0.2)(0.3425,0.4)(0.3450,0.0)(0.3475,0.6)
(0.3500,-0.1)(0.3525,0.5)(0.3550,0.1)(0.3575,0.7)(0.3600,-0.2)(0.3625,0.5)(0.3650,0.2)(0.3675,0.7)(0.3700,0.0)(0.3725,0.6)
(0.3750,0.2)(0.3775,0.8)(0.3800,0.1)(0.3825,0.6)(0.3850,0.3)(0.3875,0.8)(0.3900,0.1)(0.3925,0.7)(0.3950,0.3)(0.3975,0.9)
(0.4000,0.2)(0.4025,0.7)(0.4050,0.3)(0.4075,0.8)(0.4100,0.2)(0.4125,0.7)(0.4150,0.4)(0.4175,0.9)(0.4200,0.2)(0.4225,0.7)
(0.4250,0.3)(0.4275,0.8)(0.4300,0.2)(0.4325,0.7)(0.4350,0.4)(0.4375,0.9)(0.4400,0.3)(0.4425,0.8)(0.4450,0.4)(0.4475,0.9)
(0.4500,0.3)(0.4525,0.8)(0.4550,0.5)(0.4575,0.9)(0.4600,0.5)
(0.464,0.9)(0.468,0.7)(0.471,1.3)(0.474,1.5)(0.477,2.2)(0.480,2.5)
(0.483,3.4)(0.486,3.8)(0.489,4.9)(0.492,5.3)(0.495,6.4)
(0.498,6.8)(0.500,8.4)(0.502,7.4)(0.504,9.6)(0.506,8.2)(0.508,10.6)(0.510,9.0)(0.512,11.8)(0.514,10.0)(0.516,12.8)
(0.518,11.0)(0.520,13.8)(0.522,11.8)(0.524,14.8)(0.526,12.8)(0.528,15.8)(0.530,13.6)(0.532,16.8)(0.534,14.6)(0.536,17.8)
(0.538,15.4)(0.540,18.6)(0.542,16.0)(0.544,19.6)(0.546,16.6)(0.548,20.4)(0.550,17.2)(0.552,21.2)(0.554,17.6)(0.556,21.6)
(0.558,18.0)(0.560,22.4)(0.562,18.6)(0.564,22.0)(0.566,24.7)(0.568,19.0)(0.570,23.0)(0.572,19.4)(0.574,23.6)(0.575,26.1)
(0.577,19.8)(0.579,23.2)(0.581,20.2)(0.583,24.2)(0.585,20.6)
(0.586,23.8)(0.587,20.8)(0.588,24.4)(0.589,20.4)(0.590,25.0)(0.591,21.2)(0.592,24.7)(0.593,21.0)(0.594,25.2)(0.595,20.8)
(0.596,24.0)(0.597,21.4)(0.598,25.8)(0.599,21.0)(0.600,26.0)(0.601,21.6)(0.602,25.0)(0.603,30.0)(0.604,20.6)(0.605,25.4)
(0.606,21.8)(0.607,26.6)(0.608,21.2)(0.609,25.2)(0.610,22.0)(0.611,32.9)(0.612,20.4)(0.613,26.2)(0.614,21.6)(0.615,27.0)
(0.616,21.8)(0.617,25.6)(0.618,22.4)(0.619,29.6)(0.620,20.0)(0.621,26.0)(0.622,29.2)(0.623,21.5)(0.624,25.8)(0.625,22.0)
(0.626,27.0)(0.627,19.6)(0.628,25.2)(0.629,21.2)(0.630,37.6)(0.631,18.8)(0.632,26.4)(0.633,21.4)(0.634,28.0)(0.635,20.4)
(0.636,26.2)(0.637,36.8)(0.638,21.0)(0.639,18.1)(0.640,32.1)(0.641,21.0)(0.642,26.6)(0.643,33.6)(0.644,20.6)(0.645,19.2)
(0.646,31.4)(0.647,22.2)(0.648,21.6)(0.649,27.4)(0.650,21.2)(0.651,36.9)(0.652,20.4)(0.653,19.0)(0.654,27.2)(0.655,28.4)
(0.656,21.4)(0.657,20.6)(0.658,34.0)(0.659,22.0)(0.660,19.8)(0.661,26.4)(0.662,28.0)(0.663,21.4)(0.664,20.8)(0.665,25.6)
(0.666,28.9)(0.667,21.0)(0.668,20.2)(0.669,25.0)(0.670,26.2)(0.671,20.4)(0.672,21.0)(0.673,25.4)(0.674,21.6)(0.675,27.0)
(0.676,20.4)(0.677,20.6)(0.678,24.8)(0.679,24.6)(0.680,20.0)(0.681,22.4)(0.682,25.4)(0.683,20.8)(0.684,21.0)(0.685,24.0)
(0.686,23.8)(0.687,19.8)(0.688,19.6)(0.689,23.2)(0.690,22.6)
(0.692,20.7)(0.694,18.0)(0.696,21.5)(0.698,16.4)(0.700,19.0)(0.702,15.0)(0.704,23.8)
(0.706,13.2)(0.708,17.0)(0.710,11.8)(0.712,15.8)(0.713,22.5)(0.715,11.6)(0.717,14.2)(0.719,10.6)(0.721,12.8)(0.723,9.6)
(0.725,10.8)(0.727,7.4)(0.729,8.6)(0.731,6.6)(0.733,7.2)(0.735,4.2)(0.737,4.8)(0.739,2.4)(0.741,1.6)(0.743,0.0)
(0.745,-1.6)(0.747,-3.2)(0.749,-4.2)(0.751,-6.5)(0.753,-5.0)(0.755,-6.0)(0.757,-4.6)(0.759,-3.0)(0.761,-2.6)(0.763,-2.2)
(0.765,-1.8)(0.767,-2.1)(0.769,-1.3)(0.771,-1.6)(0.773,-1.0)(0.775,-1.3)(0.778,-0.7)(0.781,-1.0)(0.784,-0.5)(0.787,-0.9)
(0.790,-0.3)(0.793,-0.7)(0.796,-0.2)(0.800,-0.4)(0.805,0.1)(0.810,-0.3)(0.815,0.3)(0.820,-0.1)(0.825,0.4)(0.830,0.0)
(0.835,0.5)(0.840,0.1)(0.845,0.6)(0.850,-0.2)(0.855,0.4)(0.860,0.0)(0.865,0.5)(0.870,-0.3)(0.875,0.3)(0.880,0.1)
(0.885,0.5)(0.890,-0.2)(0.895,0.4)(0.900,0.0)(0.905,0.3)(0.910,-0.2)(0.915,0.5)(0.920,0.1)(0.925,0.6)(0.930,-0.1)
(0.935,0.4)(0.940,-0.3)(0.945,0.3)(0.950,0.0)(0.955,0.5)(0.960,-0.3)(0.965,0.4)(0.970,0.0)(0.975,0.6)(0.980,-0.2)
(0.985,0.4)(0.990,-0.1)(0.995,0.5)(1.000,0.2)
};
\node[anchor=base west, inner sep=0pt, text=mred, font=\calib\fontsize{23.5}{28}\selectfont] at (axis cs:0.7504,21.24) {Colors represent};
\node[anchor=base west, inner sep=0pt, text=mred, font=\calib\fontsize{23.5}{28}\selectfont] at (axis cs:0.7504,17.82) {varying bias};
\node[anchor=base west, inner sep=0pt, text=mred, font=\calib\fontsize{23.5}{28}\selectfont] at (axis cs:0.7504,14.50) {conditions};
\end{axis}
\draw[axgray, line width=0.9pt] (current axis.north west) -- (current axis.south west) -- (current axis.south east);
\pgfresetboundingbox
\path ([shift={(-52.5pt,-41pt)}]current axis.south west) rectangle ([shift={(2.85pt,9pt)}]current axis.north east);
\end{tikzpicture}
\end{document}
